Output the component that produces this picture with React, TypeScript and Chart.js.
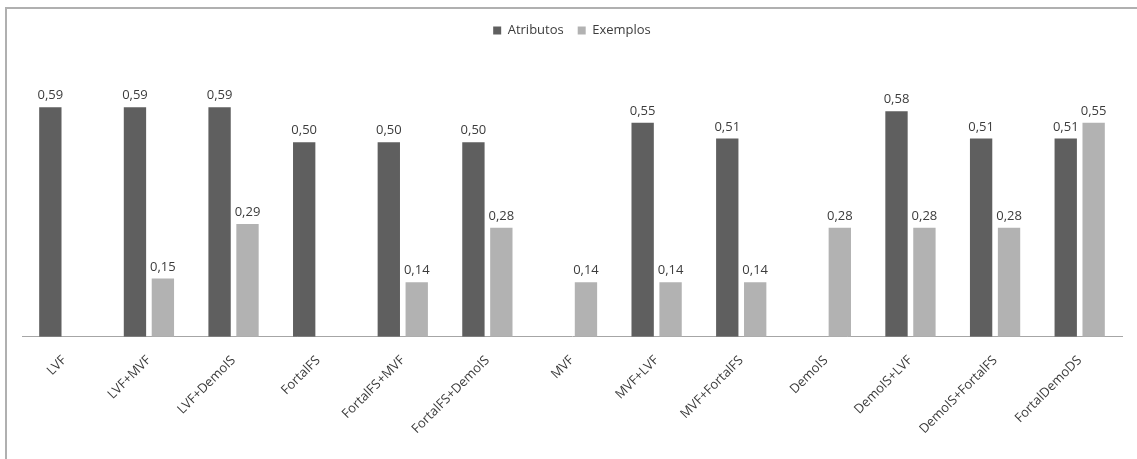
import React, { useEffect, useRef } from "react";
import { Chart, registerables } from "chart.js";

Chart.register(...registerables);

const categories = [
  "LVF",
  "LVF+MVF",
  "LVF+DemoIS",
  "FortalFS",
  "FortalFS+MVF",
  "FortalFS+DemoIS",
  "MVF",
  "MVF+LVF",
  "MVF+FortalFS",
  "DemoIS",
  "DemoIS+LVF",
  "DemoIS+FortalFS",
  "FortalDemoDS",
];

const atributos: (number | null)[] = [0.59, 0.59, 0.59, 0.5, 0.5, 0.5, null, 0.55, 0.51, null, 0.58, 0.51, 0.51];
const exemplos: (number | null)[] = [null, 0.15, 0.29, null, 0.14, 0.28, 0.14, 0.14, 0.14, 0.28, 0.28, 0.28, 0.55];

const seriesNames = ["Atributos", "Exemplos"];
const FONT = "'Open Sans', sans-serif";
const TEXT = "#3c3c3c";

const valueLabels = {
  id: "valueLabels",
  afterDatasetsDraw(chart: any) {
    const ctx = chart.ctx;
    ctx.save();
    ctx.font = `13px ${FONT}`;
    ctx.fillStyle = TEXT;
    ctx.textAlign = "center";
    ctx.textBaseline = "bottom";
    chart.data.datasets.forEach((ds: any, i: number) => {
      const meta = chart.getDatasetMeta(i);
      meta.data.forEach((el: any, j: number) => {
        const v = ds.data[j];
        if (v === null || v === undefined) return;
        ctx.fillText(v.toFixed(2).replace(".", ","), el.x, el.y - 5);
      });
    });
    ctx.restore();
  },
};

export default function App() {
  const ref = useRef<HTMLCanvasElement>(null);
  useEffect(() => {
    if (!ref.current) return;
    const chart = new Chart(ref.current, {
      type: "bar",
      data: {
        labels: categories,
        datasets: [
          { label: seriesNames[0], data: atributos, backgroundColor: "#5f5f5f" },
          { label: seriesNames[1], data: exemplos, backgroundColor: "#b2b2b2" },
        ],
      },
      options: {
        animation: false,
        responsive: false,
        layout: { padding: { top: 10, left: 22, right: 15, bottom: 14 } },
        datasets: { bar: { categoryPercentage: 0.66, barPercentage: 0.8 } },
        plugins: {
          legend: {
            position: "top",
            labels: {
              boxWidth: 8,
              boxHeight: 8,
              color: TEXT,
              font: { family: FONT, size: 13 },
              padding: 14,
            },
          },
          tooltip: { enabled: false },
        },
        scales: {
          x: {
            grid: { display: false },
            border: { color: "#a6a6a6", width: 1 },
            ticks: {
              color: TEXT,
              font: { family: FONT, size: 13 },
              maxRotation: 45,
              minRotation: 45,
              padding: 8,
            },
          },
          y: { display: false, min: 0, max: 0.745 },
        },
      },
      plugins: [valueLabels],
    });
    return () => chart.destroy();
  }, []);
  return (
    <div style={{ position: "fixed", left: 0, top: 0, width: 1137, height: 459, background: "#fff" }}>
      <canvas ref={ref} width={1137} height={459} style={{ position: "absolute", left: 0, top: 0 }} />
      <div
        style={{
          position: "absolute",
          left: 5,
          top: 7,
          width: 1140,
          height: 460,
          borderLeft: "2px solid #b0b0b0",
          borderTop: "2px solid #b0b0b0",
          pointerEvents: "none",
        }}
      />
    </div>
  );
}
